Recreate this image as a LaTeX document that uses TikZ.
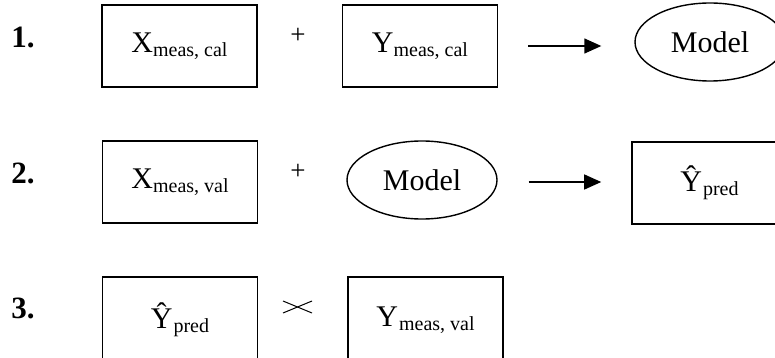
\documentclass[tikz,border=0pt]{standalone}
\usepackage{fontspec}
\setmainfont{Liberation Serif}
\usetikzlibrary{shapes.geometric,arrows.meta}
\newcommand{\mysub}[1]{\raisebox{-4pt}{\fontsize{20}{20}\selectfont #1}}
\tikzset{
  box/.style={draw, line width=1.6pt, minimum width=155pt, minimum height=82pt, inner sep=0pt,
              font=\fontsize{30}{30}\selectfont},
  ell/.style={ellipse, draw, line width=1.4pt, minimum width=150pt, minimum height=78pt, inner sep=0pt,
              font=\fontsize{30}{30}\selectfont},
  arr/.style={line width=1.4pt, -{Triangle[length=17pt,width=15pt]}},
  lab/.style={anchor=base, inner sep=0pt, font=\fontsize{31}{31}\selectfont\bfseries},
  op/.style={inner sep=0pt, font=\fontsize{27}{27}\selectfont},
}
\begin{document}
\begin{tikzpicture}[x=1pt,y=-1pt]
\useasboundingbox (0,0) rectangle (775,358);
\clip (0,0) rectangle (775,358);
% row 1
\node[lab] (n1) at (23,48) {1.};
\node[box] (xcal) at (179.5,46) {X\mysub{meas, cal}};
\node[op] (p1) at (298,36) {+};
\node[box] (ycal) at (420,46) {Y\mysub{meas, cal}};
\node[ell] (model1) at (710,42) {Model};
\draw[arr, shorten <=30pt, shorten >=33pt] (ycal) -- (ycal.east -| model1.west);
% row 2
\node[lab] (n2) at (23,183) {2.};
\node[box] (xval) at (180,182) {X\mysub{meas, val}};
\node[op] (p2) at (298,172) {+};
\node[ell] (model2) at (422,180) {Model};
\node[box] (ypred2) at (709.5,183) {Ŷ\kern1pt\mysub{pred}};
\draw[arr, shorten <=31pt, shorten >=30pt] (model2.east |- 0,182) -- (ypred2.west |- 0,182);
% row 3
\node[lab] (n3) at (23,318) {3.};
\node[box, minimum height=86pt] (ypred3) at (180,320) {Ŷ\kern1pt\mysub{pred}};
\node[box, minimum height=86pt] (ymval) at (425.5,320) {Y\kern1pt\mysub{meas, val}};
\draw[line width=1pt] (283,301) -- (312,313);
\draw[line width=1pt] (283,313) -- (312,301);
\end{tikzpicture}
\end{document}
